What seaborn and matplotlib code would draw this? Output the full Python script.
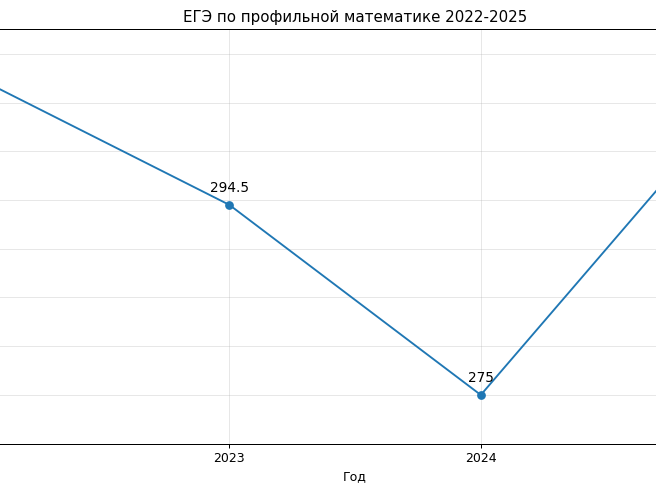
import matplotlib
matplotlib.use("Agg")
import matplotlib.pyplot as plt
import seaborn as sns
import pandas as pd

years = [2022, 2023, 2024, 2025]
scores = [307.5, 294.5, 275, 305]
labels = ["307.5", "294.5", "275", "305"]

df = pd.DataFrame({"Год": years, "Баллы": scores})

s = 0.9
plt.rcParams.update({
    "xtick.major.size": 3.5 * s, "ytick.major.size": 3.5 * s,
    "xtick.major.pad": 3.5 * s, "ytick.major.pad": 3.5 * s,
    "xtick.major.width": 0.8 * s, "ytick.major.width": 0.8 * s,
    "axes.linewidth": 0.8 * s, "axes.labelpad": 4.0 * s,
    "axes.titlepad": 6.0 * s,
})

fig = plt.figure(figsize=(6.56, 4.92), dpi=100)
ax = fig.add_axes([-0.091, 0.0982, 1.2646, 0.8419])
sns.lineplot(data=df, x="Год", y="Баллы", marker="o", markersize=6.3,
             markeredgewidth=0, color="#1f77b4", linewidth=1.5 * s, ax=ax)
for x, y, t in zip(years, scores, labels):
    ax.annotate(t, (x, y), xytext=(0, 8 * s), textcoords="offset points",
                ha="center", va="bottom", fontsize=9.8)
ax.set_xticks(years)
ax.set_xticklabels([str(y) for y in years])
ax.tick_params(labelsize=9)
ax.set_ylim(min(scores) - 5, max(scores) + 5)
ax.set_xlim(2021.85, 2025.15)
ax.grid(True, alpha=0.3, linewidth=0.8 * s)
ax.set_title("ЕГЭ по профильной математике 2022-2025", fontsize=10.8)
ax.set_xlabel("Год", fontsize=9)
ax.set_ylabel("Баллы", fontsize=9)
fig.savefig("out.png", dpi=100)
